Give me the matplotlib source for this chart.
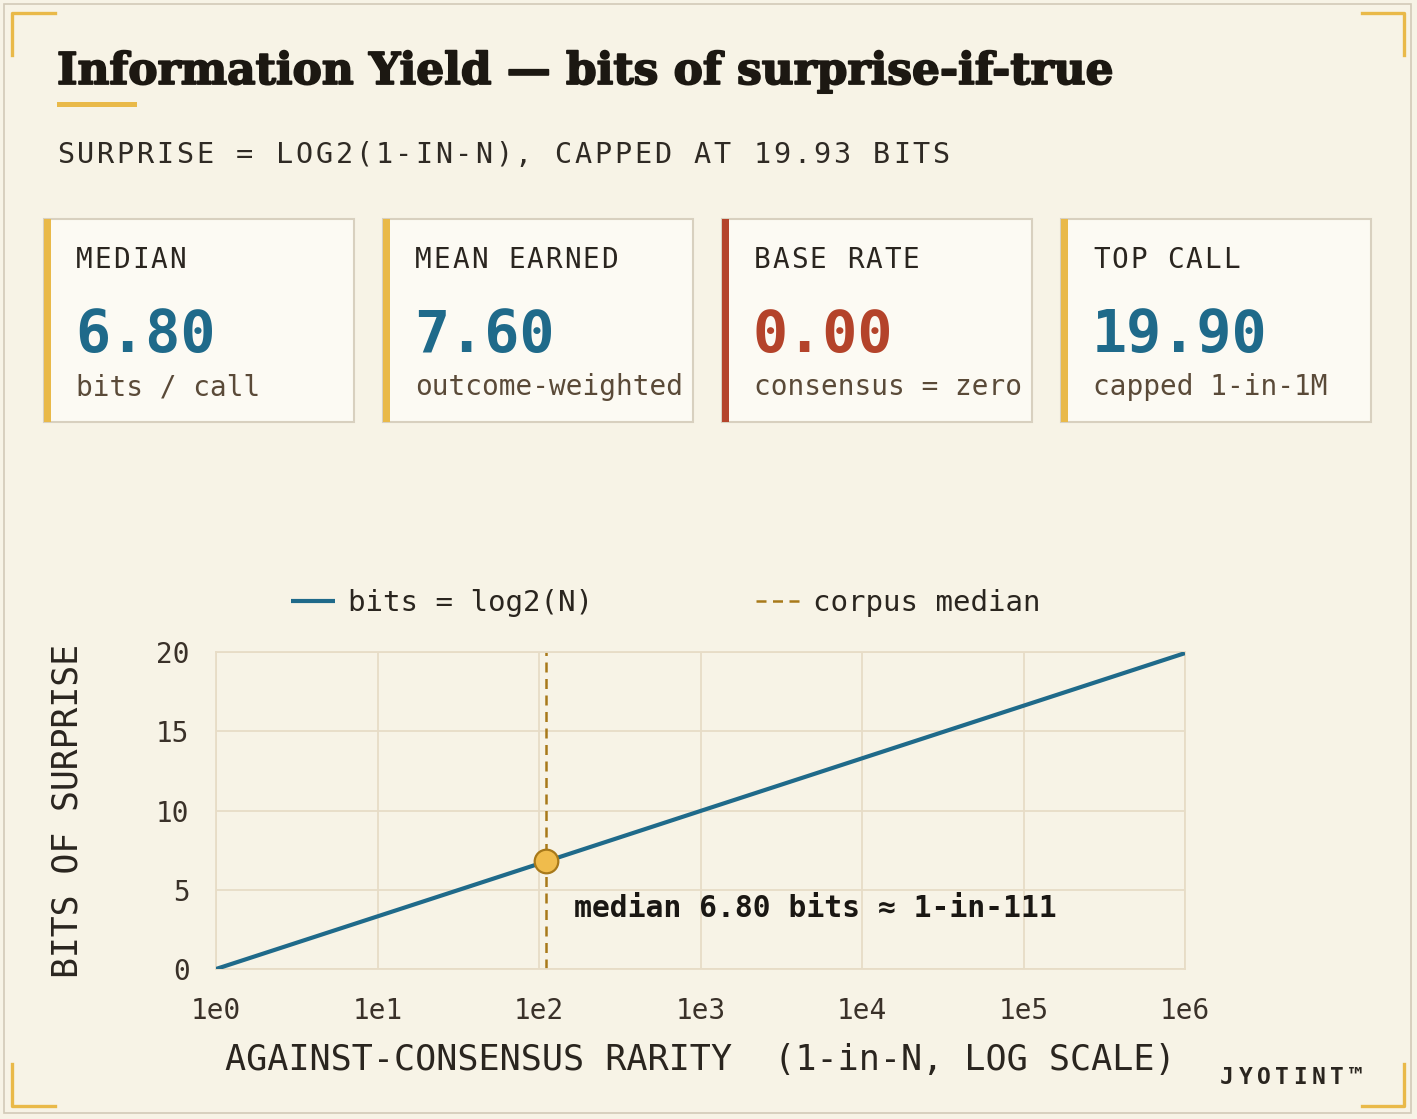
import matplotlib
matplotlib.use('Agg')
import matplotlib.pyplot as plt
import matplotlib.patheffects as pe
from matplotlib.patches import Rectangle
from matplotlib.lines import Line2D
from matplotlib.ticker import NullLocator

# data
card_labels = ['MEDIAN', 'MEAN EARNED', 'BASE RATE', 'TOP CALL']
card_values = [6.80, 7.60, 0.00, 19.90]
card_notes = ['bits / call', 'outcome-weighted', 'consensus = zero', 'capped 1-in-1M']

rarity_n = [1, 10, 100, 1000, 10000, 100000, 1000000]
bits = [0.0, 3.32, 6.64, 9.97, 13.29, 16.61, 19.93]
median_n = 111
median_bits = 6.80

x_ticks = [1, 10, 100, 1000, 10000, 100000, 1000000]
x_tick_labels = ['1e0', '1e1', '1e2', '1e3', '1e4', '1e5', '1e6']
y_ticks = [0, 5, 10, 15, 20]

# style
BG = '#f7f3e6'
CARD_BG = '#fcfaf3'
CARD_EDGE = '#d8d0bf'
GOLD = '#e9b949'
RUST = '#b4432a'
BLUE = '#1f6a8a'
INK = '#2a251f'
NOTE = '#5a4a38'
GRID = '#e7dcc6'
DASH = '#a8791a'
MONO = 'DejaVu Sans Mono'

plt.rcParams['font.family'] = [MONO, 'DejaVu Sans']

W, H = 1417, 1119
fig = plt.figure(figsize=(W / 100, H / 100), dpi=100)
fig.patch.set_facecolor(BG)


def fx(x):
    return x / W


def fy(y):
    return 1 - y / H


def spaced(x, y, s, pitch, **kw):
    # monospace text with extra tracking, one glyph at a time
    for i, c in enumerate(s):
        fig.text(fx(x + i * pitch), fy(y), c, ha='left', va='baseline', **kw)


def fig_line(xs, ys, **kw):
    fig.add_artist(Line2D([fx(v) for v in xs], [fy(v) for v in ys],
                          transform=fig.transFigure, **kw))


# outer frame and gold corner brackets
fig.add_artist(Rectangle((fx(4), fy(1113)), fx(1411) - fx(4), fy(4) - fy(1113),
                         transform=fig.transFigure, fill=False,
                         edgecolor='#d2cab8', lw=1.2))
blw = 2.4
fig_line([55, 12, 12], [13, 13, 55], color=GOLD, lw=blw)
fig_line([1362, 1404, 1404], [13, 13, 55], color=GOLD, lw=blw)
fig_line([12, 12, 55], [1064, 1106, 1106], color=GOLD, lw=blw)
fig_line([1404, 1404, 1362], [1064, 1106, 1106], color=GOLD, lw=blw)

# title, fitted to its width in the reference
title = fig.text(fx(57), fy(84), 'Information Yield \u2014 bits of surprise-if-true',
                 family='DejaVu Serif', fontweight='bold', fontsize=32,
                 color='#1c1812', ha='left', va='baseline')
r = fig.canvas.get_renderer()
tw = title.get_window_extent(r).width
title.set_fontsize(32 * (1058 / tw))
title.set_path_effects([pe.withStroke(linewidth=1.3, foreground='#1c1812')])
fig.add_artist(Rectangle((fx(57), fy(107)), fx(137) - fx(57), fy(102) - fy(107),
                         transform=fig.transFigure, color=GOLD, lw=0))

spaced(57, 163, 'SURPRISE = LOG2(1-IN-N), CAPPED AT 19.93 BITS', 19.9,
       fontsize=20.5, color='#2f2a24')

# stat cards
accents = [GOLD, GOLD, RUST, GOLD]
value_colors = [BLUE, BLUE, RUST, BLUE]
for i, (lab, val, note) in enumerate(zip(card_labels, card_values, card_notes)):
    left = 44 + i * 339
    fig.add_artist(Rectangle((fx(left), fy(422)), 310 / W, 203 / H,
                             transform=fig.transFigure, facecolor=CARD_BG,
                             edgecolor=CARD_EDGE, lw=1.5))
    fig.add_artist(Rectangle((fx(left), fy(422)), 7 / W, 203 / H,
                             transform=fig.transFigure, facecolor=accents[i], lw=0))
    spaced(left + 32, 268, lab, 18.6, fontsize=20, color=INK)
    fig.text(fx(left + 31), fy(352), f'{val:.2f}', fontsize=42, fontweight='bold',
             color=value_colors[i], ha='left', va='baseline')
    fig.text(fx(left + 32), fy(395), note, fontsize=20, color=NOTE,
             ha='left', va='baseline')

# chart
ax = fig.add_axes([fx(216), fy(969), (1185 - 216) / W, (969 - 652) / H])
ax.set_facecolor('none')
ax.set_xscale('log')
ax.set_xlim(1, 1e6)
ax.set_ylim(0, 20)
ax.set_xticks(x_ticks)
ax.set_xticklabels(x_tick_labels)
ax.xaxis.set_minor_locator(NullLocator())
ax.set_yticks(y_ticks)
ax.grid(True, color=GRID, lw=1.3)
ax.set_axisbelow(True)
for s in ax.spines.values():
    s.set_color(GRID)
    s.set_linewidth(1.3)
ax.tick_params(length=0, labelsize=20, labelcolor='#3a3129')
ax.tick_params(axis='y', pad=19)
ax.tick_params(axis='x', pad=20)

line, = ax.plot(rarity_n, bits, color=BLUE, lw=3, solid_capstyle='butt',
                label='bits = log2(N)', zorder=3)
vline = ax.axvline(median_n, color=DASH, lw=1.8, dashes=(4, 2.6),
                   label='corpus median', zorder=2)
ax.plot([median_n], [median_bits], 'o', ms=17, mfc='#f0bc4c', mec=DASH,
        mew=1.6, zorder=4)
ax.text(165, 3.28, f'median {median_bits:.2f} bits \u2248 1-in-{median_n}',
        fontsize=21.4, fontweight='bold', color='#1a1713', ha='left', va='baseline')

ax.set_xlabel('AGAINST-CONSENSUS RARITY  (1-in-N, LOG SCALE)', fontsize=25.3,
              color=INK)
ax.xaxis.set_label_coords(0.5, (969 - 1043) / 317)
ax.set_ylabel('BITS OF SURPRISE', fontsize=25, color=INK)
ax.yaxis.set_label_coords((85 - 216) / 969, 0.5)

fig.legend(handles=[line, vline], loc='center', bbox_to_anchor=(fx(666), fy(603)),
           ncol=2, frameon=False, fontsize=21, handlelength=1.5,
           handletextpad=0.45, columnspacing=5.6, labelcolor=INK)

spaced(1220, 1084, 'JYOTINT\u2122', 18.4, fontsize=16.5, fontweight='bold',
       color='#2a251f')

fig.savefig('out.png', dpi=100, facecolor=BG)
